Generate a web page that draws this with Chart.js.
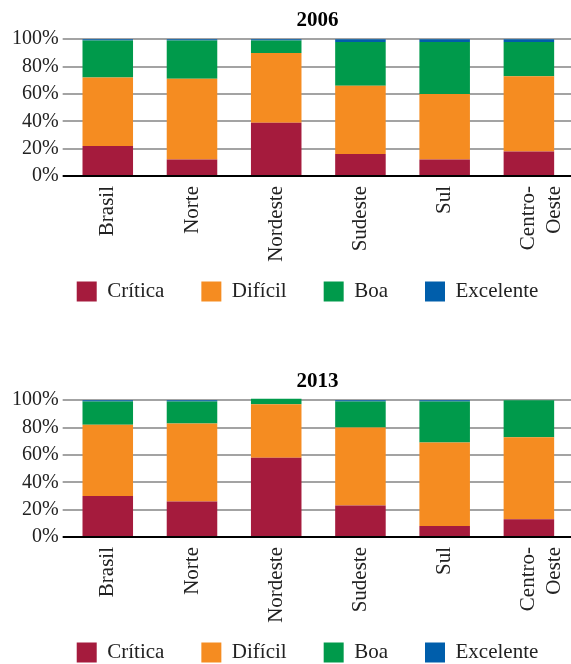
<!DOCTYPE html>
<html>
<head>
<meta charset="utf-8">
<script src="https://cdn.jsdelivr.net/npm/chart.js@4/dist/chart.umd.min.js"></script>
<style>
  body { margin: 0; width: 571px; height: 664px; overflow: hidden; background: #fff; }
  .painel { position: absolute; left: 0; }
</style>
</head>
<body>
<div class="painel" style="top:0"><canvas id="c2006" width="634" height="312"></canvas></div>
<div class="painel" style="top:361px"><canvas id="c2013" width="634" height="312"></canvas></div>
<script>
// regiões e percentuais por situação
var regioes = ['Brasil', 'Norte', 'Nordeste', 'Sudeste', 'Sul', ['Centro-', 'Oeste']];
var situacoes = ['Crítica', 'Difícil', 'Boa', 'Excelente'];
var cores = ['#a51b3d', '#f58c21', '#009a4b', '#005eab'];
var yTicks = [0, 20, 40, 60, 80, 100];

var critica2006   = [22, 12, 39, 16, 12, 18];
var dificil2006   = [50, 59, 51, 50, 48, 55];
var boa2006       = [27, 28,  9, 32, 38, 25];
var excelente2006 = [ 1,  1,  1,  2,  2,  2];

var critica2013   = [30, 26, 58, 23,  8, 13];
var dificil2013   = [52, 57, 39, 57, 61, 60];
var boa2013       = [17, 16,  4, 19, 30, 27];
var excelente2013 = [ 1,  1,  0,  1,  1,  0];

Chart.defaults.font.family = '"Liberation Serif", "Times New Roman", serif';
Chart.defaults.color = '#111';

// o padding da legenda serve para espaçar os itens na horizontal;
// aqui se tira o excesso que ele deixa na vertical.
// título e legenda ficam centrados na área das barras
var SOBRA = 18;
var legendaCompacta = {
  id: 'legendaCompacta',
  beforeInit: function (chart) {
    var fit = chart.legend.fit;
    chart.legend.fit = function () {
      fit.call(this);
      this.height -= SOBRA;
    };
  },
  afterLayout: function (chart) {
    chart.legend.top -= SOBRA;
    chart.legend.left += 18;
    chart.legend.right += 18;
    chart.titleBlock.left += 28;
    chart.titleBlock.right += 28;
  }
};

function grafico(id, titulo, series) {
  var datasets = series.map(function (valores, i) {
    return {
      label: situacoes[i],
      data: valores,
      backgroundColor: cores[i],
      borderWidth: 0,
      clip: false
    };
  });
  return new Chart(document.getElementById(id), {
    type: 'bar',
    data: { labels: regioes, datasets: datasets },
    plugins: [legendaCompacta],
    options: {
      responsive: false,
      animation: false,
      categoryPercentage: 1,
      barPercentage: 0.6,
      layout: { padding: { left: 8, right: 63, top: 0, bottom: 0 } },
      plugins: {
        title: {
          display: true,
          text: titulo,
          color: '#000',
          font: { size: 21, weight: 'bold' },
          padding: { top: 8, bottom: 6 }
        },
        legend: {
          position: 'bottom',
          labels: {
            boxWidth: 20,
            boxHeight: 20,
            padding: 37,
            color: '#222',
            font: { size: 21 }
          }
        },
        tooltip: { enabled: false }
      },
      scales: {
        x: {
          stacked: true,
          grid: { display: false, drawTicks: false },
          border: { display: false },
          afterFit: function (scale) { scale.height = 86; },
          ticks: {
            minRotation: 90,
            maxRotation: 90,
            padding: 10,
            font: { size: 21 },
            color: '#222'
          }
        },
        y: {
          stacked: true,
          min: 0,
          max: 100,
          afterBuildTicks: function (axis) {
            axis.ticks = yTicks.map(function (v) { return { value: v }; });
          },
          border: { display: false },
          grid: {
            lineWidth: 2,
            tickLength: 3,
            color: function (ctx) { return ctx.tick && ctx.tick.value === 0 ? '#000' : '#a3a3a3'; }
          },
          ticks: {
            autoSkip: false,
            padding: 4,
            font: { size: 20 },
            color: '#222',
            callback: function (v) { return v + '%'; }
          }
        }
      }
    }
  });
}

grafico('c2006', '2006', [critica2006, dificil2006, boa2006, excelente2006]);
grafico('c2013', '2013', [critica2013, dificil2013, boa2013, excelente2013]);
</script>
</body>
</html>
